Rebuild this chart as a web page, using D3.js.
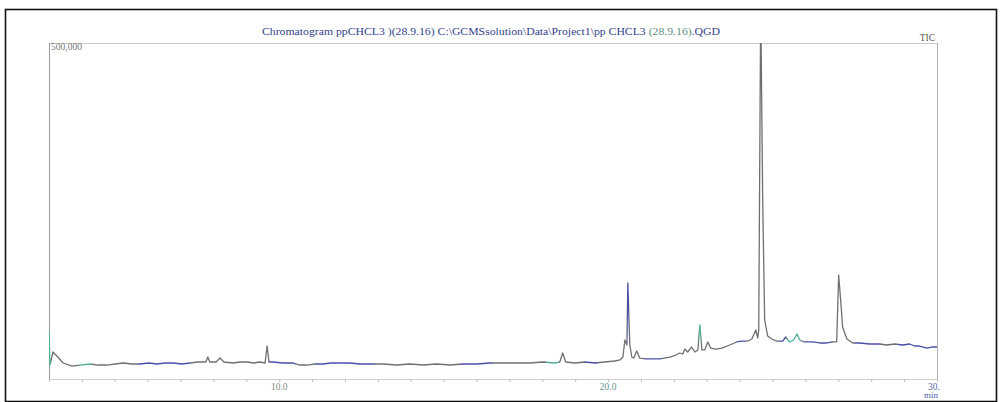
<!DOCTYPE html>
<html>
<head>
<meta charset="utf-8">
<script src="https://cdn.jsdelivr.net/npm/d3@7"></script>
<style>
  html, body { margin: 0; padding: 0; background: #fff; }
  svg { display: block; }
  text { font-family: "Liberation Serif", "DejaVu Serif", serif; }
</style>
</head>
<body>
<svg id="chart" width="1000" height="402"></svg>
<script>
// Total ion chromatogram: retention time (min) and intensity (counts)
const retentionTimes = [
  3.00, 3.03, 3.12, 3.24, 3.43, 3.70, 3.94, 4.25, 4.49, 4.76,
  5.01, 5.25, 5.52, 5.77, 6.04, 6.28, 6.53, 6.77, 7.04, 7.29,
  7.53, 7.77, 7.83, 7.89, 8.08, 8.20, 8.32, 8.59, 8.81, 9.02,
  9.23, 9.41, 9.57, 9.63, 9.69, 9.81, 10.11, 10.42, 10.63, 10.84,
  11.09, 11.33, 11.57, 11.85, 12.15, 12.45, 12.76, 13.15, 13.58, 13.97,
  14.37, 14.79, 15.19, 15.58, 16.01, 16.40, 16.80, 17.22, 17.62, 18.02,
  18.38, 18.53, 18.62, 18.71, 18.99, 19.29, 19.60, 19.90, 20.20, 20.36,
  20.45, 20.51, 20.57, 20.60, 20.66, 20.72, 20.78, 20.87, 20.96, 21.15,
  21.36, 21.57, 21.88, 22.06, 22.18, 22.27, 22.33, 22.42, 22.54, 22.64,
  22.73, 22.79, 22.85, 22.94, 23.03, 23.12, 23.27, 23.46, 23.70, 23.91,
  24.06, 24.25, 24.37, 24.49, 24.55, 24.58, 24.64, 24.70, 24.76, 24.85,
  24.98, 25.13, 25.31, 25.40, 25.52, 25.64, 25.74, 25.83, 25.95, 26.22,
  26.43, 26.65, 26.83, 26.95, 27.01, 27.07, 27.13, 27.26, 27.44, 27.65,
  27.95, 28.26, 28.47, 28.71, 28.96, 29.17, 29.32, 29.47, 29.69, 29.84,
  30.00
];
const intensities = [
  72900, 20800, 40200, 34200, 23800, 19300, 20800, 22300, 20800, 20800,
  22300, 23800, 22300, 22300, 23800, 22300, 23800, 23800, 22300, 23800,
  25300, 25300, 32700, 25300, 25300, 31200, 25300, 23800, 25300, 25300,
  23800, 25300, 23800, 49100, 25300, 25300, 23800, 23800, 20800, 20800,
  22300, 22300, 23800, 23800, 23800, 22300, 22300, 22300, 20800, 22300,
  20800, 22300, 20800, 22300, 22300, 23800, 23800, 23800, 23800, 25300,
  23800, 25300, 38700, 25300, 23800, 25300, 23800, 25300, 26800, 28300,
  32700, 58000, 50600, 142900, 50600, 32700, 31200, 41700, 31200, 29800,
  29800, 29800, 32700, 35700, 38700, 37200, 44600, 40200, 47600, 40200,
  43200, 80400, 43200, 43200, 55100, 46100, 44600, 46100, 50600, 55100,
  56500, 56500, 59500, 72900, 61000, 72900, 560000, 266400, 87800, 64000,
  59500, 56500, 56500, 62500, 55100, 58000, 67000, 58000, 55100, 55100,
  53600, 53600, 55100, 55100, 154800, 117600, 77400, 59500, 53600, 53600,
  52100, 52100, 50600, 52100, 50600, 52100, 49100, 49100, 46100, 47600,
  47600
];

// Axis ticks
const minorTicks = d3.range(3, 31, 1);
const labelledTicks = [10, 20, 30];
const tickLabels = ["10.0", "20.0", "30."];
const tickLabelColours = ["#7d8a86", "#5e9488", "#5b6aa6"];
const yMaxLabel = "500,000";

// Trace colour bands (retention-time ranges drawn in blue or green)
const bandStarts = [3.00, 3.90, 5.70, 9.70, 11.10, 15.50, 18.10, 19.30, 20.58, 21.10, 22.77, 23.90, 25.20, 25.45, 25.95, 27.50, 28.80];
const bandEnds   = [3.06, 4.30, 7.30, 10.50, 12.90, 16.50, 18.50, 19.70, 20.62, 21.60, 22.81, 24.20, 25.40, 25.85, 26.85, 28.30, 30.00];
const bandKinds  = ["g", "g", "b", "b", "b", "b", "g", "b", "b", "b", "g", "b", "b", "g", "b", "b", "b"];

const svg = d3.select("#chart");
const W = 1000, H = 402;
const plot = { left: 49, right: 937, top: 43, bottom: 379 };

const x = d3.scaleLinear().domain([3, 30]).range([plot.left, plot.right]);
const y = d3.scaleLinear().domain([0, 500000]).range([plot.bottom, plot.top]);

// Outer frame
svg.append("rect")
  .attr("x", 5.5).attr("y", 9.5)
  .attr("width", 991).attr("height", 392)
  .attr("fill", "none").attr("stroke", "#111").attr("stroke-width", 1.6);

// Title
const title = svg.append("text")
  .attr("x", 491).attr("y", 35)
  .attr("text-anchor", "middle")
  .attr("font-size", 10.5)
  .attr("fill", "#34428c")
  .attr("textLength", 458)
  .attr("lengthAdjust", "spacingAndGlyphs");
title.append("tspan").text("Chromatogram ppCHCL3 )(28.9.16) C:\\GCMSsolution\\Data\\Project1\\pp CHCL3 ");
title.append("tspan").attr("fill", "#5d8f7d").text("(28.9.16)");
title.append("tspan").text(".QGD");

svg.append("text")
  .attr("x", 935).attr("y", 41)
  .attr("text-anchor", "end")
  .attr("font-size", 9.5)
  .attr("fill", "#555")
  .text("TIC");

// Plot box lines
svg.append("line")
  .attr("x1", plot.left).attr("x2", plot.right)
  .attr("y1", plot.top + 0.5).attr("y2", plot.top + 0.5)
  .attr("stroke", "#c9c9c9");
svg.append("line")
  .attr("x1", plot.right + 0.5).attr("x2", plot.right + 0.5)
  .attr("y1", plot.top).attr("y2", plot.bottom)
  .attr("stroke", "#b5b5b5");
svg.append("line")
  .attr("x1", plot.left + 0.5).attr("x2", plot.left + 0.5)
  .attr("y1", plot.top).attr("y2", plot.bottom)
  .attr("stroke", "#9a9a9a");

// Y maximum label
svg.append("text")
  .attr("x", plot.left + 2).attr("y", y(500000) + 7)
  .attr("font-size", 9.5)
  .attr("fill", "#777")
  .text(yMaxLabel);

// X axis
const xAxis = d3.axisBottom(x)
  .tickValues(minorTicks)
  .tickSize(3)
  .tickFormat("");
const gx = svg.append("g")
  .attr("transform", `translate(0,${plot.bottom})`)
  .call(xAxis);
gx.select(".domain").attr("stroke", "#cfcfcf");
gx.selectAll(".tick line").attr("stroke", "#bcbcbc");

svg.selectAll("text.xlab")
  .data(labelledTicks)
  .join("text")
  .attr("class", "xlab")
  .attr("x", (d, i) => x(d) + (i === 2 ? -3 : 0))
  .attr("y", 390)
  .attr("text-anchor", "middle")
  .attr("font-size", 9.5)
  .attr("fill", (d, i) => tickLabelColours[i])
  .text((d, i) => tickLabels[i]);

svg.append("text")
  .attr("x", plot.right + 1).attr("y", 398)
  .attr("text-anchor", "end")
  .attr("font-size", 9)
  .attr("fill", "#4b5cae")
  .text("min");

// Trace colouring along retention time
const grey = "#6f6f6f", blue = "#4a50a8", green = "#4fae93";
const defs = svg.append("defs");
const grad = defs.append("linearGradient")
  .attr("id", "traceColour")
  .attr("gradientUnits", "userSpaceOnUse")
  .attr("x1", plot.left).attr("x2", plot.right)
  .attr("y1", 0).attr("y2", 0);
const off = t => (x(t) - plot.left) / (plot.right - plot.left);
const stops = [{ o: 0, c: grey }];
bandStarts.forEach((s, i) => {
  const c = bandKinds[i] === "b" ? blue : green;
  stops.push({ o: off(s), c: grey }, { o: off(s), c }, { o: off(bandEnds[i]), c }, { o: off(bandEnds[i]), c: grey });
});
stops.push({ o: 1, c: grey });
grad.selectAll("stop").data(stops).join("stop")
  .attr("offset", d => Math.max(0, Math.min(1, d.o)))
  .attr("stop-color", d => d.c);

defs.append("clipPath").attr("id", "plotClip")
  .append("rect")
  .attr("x", plot.left).attr("y", plot.top)
  .attr("width", plot.right - plot.left + 1)
  .attr("height", plot.bottom - plot.top);

const points = retentionTimes.map((t, i) => [t, intensities[i]]);
const line = d3.line()
  .x(d => x(d[0]))
  .y(d => y(d[1]));

svg.append("path")
  .datum(points)
  .attr("clip-path", "url(#plotClip)")
  .attr("fill", "none")
  .attr("stroke", "url(#traceColour)")
  .attr("stroke-width", 1.3)
  .attr("stroke-linejoin", "round")
  .attr("d", line);
</script>
</body>
</html>
